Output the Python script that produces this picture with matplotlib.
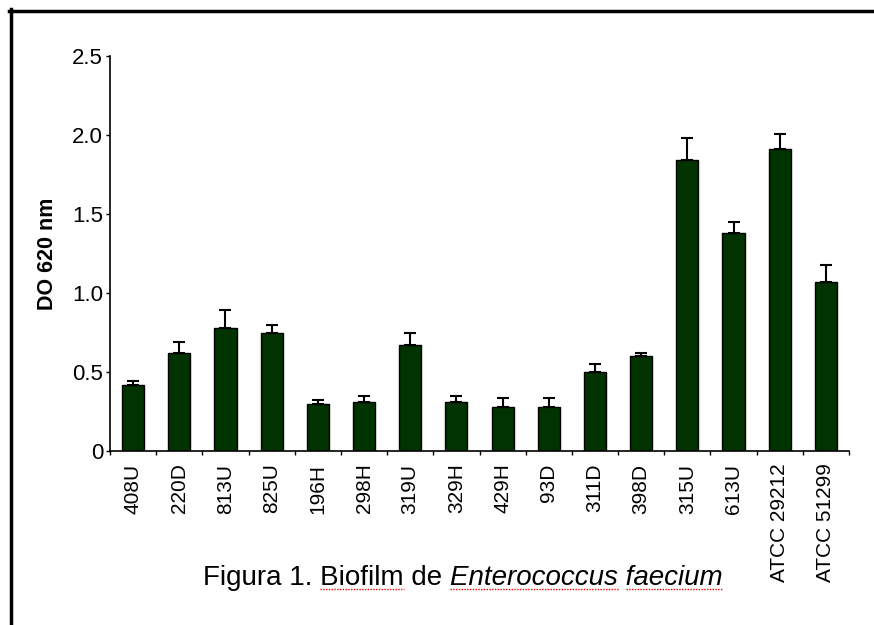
import matplotlib
matplotlib.use('Agg')
import matplotlib.pyplot as plt
import numpy as np
from matplotlib.lines import Line2D

# dados
cepas = ['408U', '220D', '813U', '825U', '196H', '298H', '319U', '329H', '429H',
         '93D', '311D', '398D', '315U', '613U', 'ATCC 29212', 'ATCC 51299']
media = [0.42, 0.62, 0.78, 0.75, 0.30, 0.31, 0.67, 0.31, 0.28,
         0.28, 0.50, 0.60, 1.84, 1.38, 1.91, 1.07]
desvio = [0.025, 0.07, 0.115, 0.05, 0.025, 0.035, 0.075, 0.035, 0.055,
          0.055, 0.05, 0.02, 0.14, 0.07, 0.095, 0.11]

plt.rcParams['font.family'] = ['Liberation Sans', 'DejaVu Sans']

W, H = 874, 625
fig = plt.figure(figsize=(W / 100, H / 100), dpi=100)
ax = fig.add_axes([110 / W, 1 - 451 / H, 739 / W, 395 / H])

x = np.arange(len(cepas))
ax.bar(x, media, width=0.48, color='#003300', edgecolor='black', linewidth=1.0, zorder=2)
ax.errorbar(x, media, yerr=[np.zeros(len(desvio)), desvio], fmt='none',
            ecolor='black', elinewidth=1.5, capsize=4, capthick=1.5, zorder=3)

ax.set_xlim(-0.5, len(cepas) - 0.5)
ax.set_ylim(0, 2.5)
ax.set_yticks([0, 0.5, 1.0, 1.5, 2.0, 2.5])
ax.set_yticklabels(['0', '0.5', '1.0', '1.5', '2.0', '2.5'], fontsize=16)
ax.set_xticks(x)
ax.set_xticklabels(cepas, rotation=90, fontsize=15)
ax.set_xticks(np.arange(-0.5, len(cepas)), minor=True)
ax.tick_params(axis='x', which='major', length=0, pad=9)
ax.tick_params(axis='x', which='minor', length=3, width=1)
ax.tick_params(axis='y', length=3, width=1, pad=2)
ax.spines['top'].set_visible(False)
ax.spines['right'].set_visible(False)
ax.spines['left'].set_linewidth(1.2)
ax.spines['bottom'].set_linewidth(1.2)
ax.set_ylabel('DO 620 nm', fontsize=15.5, fontweight='bold', labelpad=10)

# legenda da figura (parte normal + itálico)
fs = 20
yc = 1 - 578 / H
t1 = fig.text(203 / W, yc, 'Figura 1. Biofilm de ', fontsize=fs, ha='left', va='center')
fig.canvas.draw()
r = fig.canvas.get_renderer()
bb1 = t1.get_window_extent(r)
t2 = fig.text(bb1.x1 / W, yc, 'Enterococcus faecium', fontsize=fs,
              style='italic', ha='left', va='center')
fig.canvas.draw()
bb2 = t2.get_window_extent(r)


def largura(txt, x0, **kw):
    t = fig.text(x0 / W, yc, txt, fontsize=fs, ha='left', va='center', **kw)
    bb = t.get_window_extent(r)
    t.remove()
    return bb


# sublinhado vermelho do corretor ortográfico
bb_a = largura('Figura 1. ', 203)
bb_b = largura('Figura 1. Biofilm', 203)
bb_c = largura('Enterococcus', bb1.x1, style='italic')
bb_d = largura('Enterococcus ', bb1.x1, style='italic')
y_sub = (bb1.y0 + 2) / H
for xa, xb in [(bb_a.x1, bb_b.x1), (bb1.x1, bb_c.x1), (bb_d.x1, bb2.x1)]:
    fig.add_artist(Line2D([xa / W, xb / W], [y_sub, y_sub], color='red',
                          linewidth=1, linestyle=(0, (1, 1)), transform=fig.transFigure))

# moldura da página
fig.add_artist(Line2D([9 / W, 1.0], [1 - 10.5 / H, 1 - 10.5 / H], color='black',
                      linewidth=2.5, transform=fig.transFigure))
fig.add_artist(Line2D([10.5 / W, 10.5 / W], [0, 1 - 9 / H], color='black',
                      linewidth=2.5, transform=fig.transFigure))

fig.savefig('out.png', dpi=100)
